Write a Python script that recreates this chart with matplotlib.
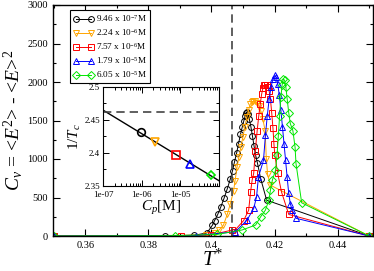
import matplotlib
matplotlib.use("Agg")
import matplotlib.pyplot as plt
from matplotlib.ticker import MultipleLocator, FixedLocator, LogLocator, NullFormatter, FixedFormatter

plt.rcParams['font.family'] = ['Liberation Serif', 'DejaVu Serif']
plt.rcParams['mathtext.fontset'] = 'custom'
plt.rcParams['mathtext.rm'] = 'Liberation Serif'
plt.rcParams['mathtext.it'] = 'Liberation Serif:italic'

labels = ["9.46 x 10$^{-7}$M", "2.24 x 10$^{-6}$M", "7.57 x 10$^{-6}$M",
          "1.79 x 10$^{-5}$M", "6.05 x 10$^{-5}$M"]
colors = ["black", "#FFA500", "red", "blue", "#00e600"]
markers = ["o", "v", "s", "^", "D"]

T_black = [0.35, 0.3854, 0.3946, 0.3986, 0.4003, 0.401, 0.402, 0.403, 0.404, 0.405, 0.406, 0.4067,
           0.4073, 0.408, 0.4086, 0.4092, 0.4098, 0.4103, 0.4107, 0.411, 0.4113, 0.4117, 0.412,
           0.4125, 0.413, 0.4135, 0.414, 0.4146, 0.4156, 0.4175, 0.45]
C_black = [0, 5, 10, 40, 140, 200, 280, 380, 490, 610, 740, 850,
           960, 1080, 1200, 1320, 1420, 1500, 1560, 1600, 1610, 1580, 1520,
           1420, 1300, 1170, 1050, 944, 746, 465, 0]

T_orange = [0.35, 0.3983, 0.401, 0.4025, 0.4038, 0.405, 0.406, 0.407, 0.4075, 0.4081, 0.4087,
            0.4093, 0.41, 0.4106, 0.4112, 0.4118, 0.4123, 0.4128, 0.4133, 0.4138, 0.4143, 0.415,
            0.4157, 0.4163, 0.417, 0.4174, 0.4178, 0.4187, 0.45]
C_orange = [0, 10, 40, 80, 140, 280, 420, 580, 720, 890, 1020,
            1150, 1290, 1420, 1540, 1640, 1710, 1740, 1750, 1750, 1730, 1690,
            1620, 1520, 1370, 1000, 800, 660, 0]

T_red = [0.35, 0.3905, 0.4, 0.4066, 0.407, 0.4102, 0.4118, 0.4124, 0.4129, 0.4134, 0.4139,
         0.4145, 0.415, 0.4155, 0.4159, 0.4163, 0.4167, 0.4171, 0.4175, 0.4179, 0.4183, 0.4187,
         0.4191, 0.4195, 0.4198, 0.4201, 0.421, 0.4222, 0.4245, 0.45]
C_red = [0, 5, 15, 78, 55, 200, 335, 570, 725, 815, 1100,
         1370, 1560, 1720, 1840, 1920, 1955, 1965, 1960, 1940, 1880, 1780,
         1600, 1400, 1200, 1047, 815, 573, 280, 0]

T_blue = [0.35, 0.395, 0.4076, 0.4113, 0.4134, 0.4143, 0.4149, 0.4165, 0.4171, 0.4177, 0.4183,
          0.4189, 0.4195, 0.4201, 0.4206, 0.421, 0.4215, 0.422, 0.4225, 0.423, 0.4235, 0.424,
          0.4245, 0.425, 0.4256, 0.4269, 0.45]
C_blue = [0, 5, 55, 207, 358, 510, 767, 983, 1306, 1560, 1780,
          1940, 2040, 2085, 2060, 1980, 1830, 1640, 1420, 1200, 983, 760,
          552, 420, 336, 229, 0]

T_green = [0.35, 0.3886, 0.4018, 0.4097, 0.414, 0.4156, 0.4171, 0.4182, 0.4187, 0.4193, 0.4203,
           0.4208, 0.4212, 0.4216, 0.422, 0.4224, 0.4228, 0.4232, 0.4236, 0.424, 0.4245, 0.425,
           0.4258, 0.4265, 0.4268, 0.4286, 0.45]
C_green = [0, 5, 20, 78, 142, 250, 336, 465, 595, 724, 853,
           1050, 1300, 1560, 1800, 1960, 2040, 2020, 1930, 1780, 1600, 1460,
           1370, 1155, 940, 431, 0]

series_T = [T_black, T_orange, T_red, T_blue, T_green]
series_C = [C_black, C_orange, C_red, C_blue, C_green]

Tc_line = 0.4066
xticks = [0.36, 0.38, 0.40, 0.42, 0.44]
xticklabels = ["0.36", "0.38", "0.4", "0.42", "0.44"]
yticks = [0, 500, 1000, 1500, 2000, 2500, 3000]

# inset data
Cp = [9.46e-7, 2.24e-6, 7.57e-6, 1.79e-5, 6.05e-5]
invTc = [2.432, 2.417, 2.397, 2.384, 2.367]
fit_x = [1e-7, 1e-4]
fit_y = [2.465, 2.358]
inset_hline = 2.462

fig = plt.figure(figsize=(3.74, 2.71), dpi=100)
ax = fig.add_axes([53/374, 1-236/271, 320/374, 231/271])

for T, C, col, m, lab in zip(series_T, series_C, colors, markers, labels):
    ax.plot(T, C, color=col, marker=m, mfc='none', mec=col, ms=4.2 if m != 'D' else 3.6,
            mew=0.7, lw=0.7, label=lab)

ax.axvline(Tc_line, color='#444444', ls=(0, (5, 3)), lw=1.2)
ax.set_xlim(0.3498, 0.4512)
ax.set_ylim(0, 3000)
ax.set_xticks(xticks)
ax.set_xticklabels(xticklabels)
ax.set_yticks(yticks)
ax.xaxis.set_minor_locator(MultipleLocator(0.01))
ax.yaxis.set_minor_locator(MultipleLocator(250))
ax.tick_params(which='both', direction='in', top=True, right=True, labelsize=7.5, width=0.8)
ax.tick_params(which='major', length=5)
ax.tick_params(which='minor', length=2.5)
for s in ax.spines.values():
    s.set_linewidth(1.0)

ax.set_ylabel(r"$C_{v}$ = <$E^{2}$> - <$E$>$^{2}$", fontsize=14, labelpad=2)
ax.set_xlabel(r"$T^{*}$", fontsize=15, labelpad=0)

leg = ax.legend(loc='upper left', bbox_to_anchor=(0.053, 0.978), numpoints=2, fontsize=6.6,
                frameon=True, fancybox=False, edgecolor='black', framealpha=1,
                handlelength=2.2, handletextpad=0.3, labelspacing=0.32, borderpad=0.35,
                borderaxespad=0)
leg.get_frame().set_linewidth(0.8)

# inset
ins = fig.add_axes([103/374, 1-186/271, 116/374, 99/271])
ins.set_xscale('log')
ins.plot(fit_x, fit_y, color='black', lw=1.0)
ins.axhline(inset_hline, color='#444444', ls=(0, (5, 3)), lw=1.2)
for x, y, col, m in zip(Cp, invTc, colors, markers):
    ins.plot([x], [y], marker=m, mfc='none', mec=col, ms=5.5 if m != 'D' else 4.5, mew=1.2)
ins.set_xlim(1e-7, 1e-4)
ins.set_ylim(2.35, 2.5)
ins.xaxis.set_major_locator(FixedLocator([1e-7, 1e-6, 1e-5]))
ins.xaxis.set_major_formatter(FixedFormatter(["1e-07", "1e-06", "1e-05"]))
ins.xaxis.set_minor_locator(LogLocator(base=10, subs=range(2, 10)))
ins.xaxis.set_minor_formatter(NullFormatter())
ins.set_yticks([2.35, 2.4, 2.45, 2.5])
ins.set_yticklabels(["2.35", "2.4", "2.45", "2.5"])
ins.yaxis.set_minor_locator(MultipleLocator(0.025))
ins.tick_params(which='both', direction='in', top=True, right=True, labelsize=6.5, width=0.7)
ins.tick_params(axis='y', pad=2)
ins.tick_params(axis='x', pad=3.5)
ins.tick_params(which='major', length=4)
ins.tick_params(which='minor', length=2)
ins.set_ylabel(r"1/$T_{c}$", fontsize=11, labelpad=1)
ins.set_xlabel(r"$C_{p}$[M]", fontsize=11, labelpad=0)

fig.savefig("out.png", dpi=100)
